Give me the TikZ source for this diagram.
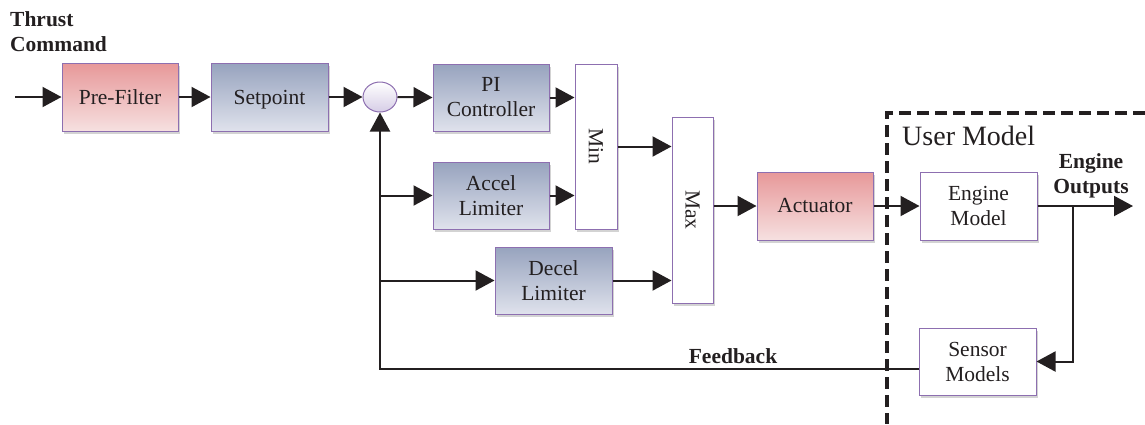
\documentclass[tikz,border=0pt]{standalone}
\usepackage{fontspec}
\setmainfont{Liberation Serif}
\newfontfamily\tnr{Liberation Serif}
\usetikzlibrary{arrows.meta,shadows,shapes.geometric}
\definecolor{ink}{HTML}{231F20}
\definecolor{edge}{HTML}{8D6FB0}
\definecolor{pinkTop}{HTML}{E79899}
\definecolor{pinkBot}{HTML}{F6E0E0}
\definecolor{blueTop}{HTML}{97A3BE}
\definecolor{blueBot}{HTML}{DFE2EC}
\definecolor{lavBot}{HTML}{D6CDE6}
\newcommand{\labfont}{\tnr\fontsize{21.5}{25}\selectfont}
\newcommand{\bigfont}{\tnr\fontsize{28}{32}\selectfont}
\begin{document}
\begin{tikzpicture}[x=1pt,y=-1pt,
  blk/.style={draw=edge, line width=1pt, minimum width=116pt, minimum height=67pt,
    align=center, inner sep=0pt, font=\labfont, text=ink,
    drop shadow={shadow xshift=2pt, shadow yshift=-2.5pt, opacity=0.35}},
  pinkblk/.style={blk, top color=pinkTop, bottom color=pinkBot},
  blueblk/.style={blk, top color=blueTop, bottom color=blueBot},
  whiteblk/.style={blk, fill=white},
  tallblk/.style={blk, fill=white, minimum width=42pt},
  conn/.style={draw=ink, line width=2pt, -{Triangle[length=19pt,width=20pt]}},
  boldlab/.style={font=\labfont\bfseries, text=ink, inner sep=0pt},
  userline/.style={draw=ink, line width=4pt, dash pattern=on 12pt off 6pt}
]
\useasboundingbox (0,0) rectangle (1145,424);

% blocks
\node[pinkblk, minimum height=68pt] (pre) at (120,97) {Pre-Filter};
\node[blueblk, minimum height=68pt, minimum width=117pt] (set) at (269.5,97) {\raisebox{0pt}[\height][0pt]{Setpoint}};
\node[ellipse, draw=edge, line width=1pt, top color=white, bottom color=lavBot,
      minimum width=34pt, minimum height=30pt, inner sep=0pt] (sum) at (380,97) {};
\node[blueblk] (pi) at (491,97.5) {PI\\Controller};
\node[blueblk] (accel) at (491,195.5) {Accel\\Limiter};
\node[tallblk, minimum height=165pt] (min) at (596,146.5) {\rotatebox{-90}{Min}};
\node[tallblk, minimum width=41pt, minimum height=186pt] (max) at (692.5,210) {\rotatebox{-90}{Max}};
\node[blueblk, minimum width=117pt] (decel) at (553.5,280.5) {Decel\\Limiter};
\node[pinkblk, minimum height=68pt] (act) at (815,206) {Actuator};
\node[whiteblk, minimum height=68pt, minimum width=117pt] (eng) at (978.5,206) {Engine\\Model};
\node[whiteblk, minimum width=117pt] (sens) at (977.5,361.5) {Sensor\\Models};

% user model boundary
\coordinate (ucorner) at (887,113);
\draw[userline] (1145,113) -- (ucorner) -- (887,424);
\node[font=\bigfont, text=ink, anchor=base west, inner sep=0pt] (user) at (902,145) {User Model};

% labels
\node[boldlab, anchor=north west, align=left] (thrust) at (10,11) {Thrust\\Command};
\node[boldlab, align=center] (outs) at (1091,176) {Engine\\Outputs};
\node[boldlab, anchor=base] (fb) at (733,363) {Feedback};

% connectors
\coordinate (in) at (15,97);
\draw[conn] (in) -- (pre.west);
\draw[conn] (pre.east) -- (set.west);
\draw[conn] (set.east) -- (sum.west);
\draw[conn] (sum.east) -- (pi.west);
\draw[conn] (pi.east) -- (pi.east -| min.west);
\draw[conn] (accel.east) -- (accel.east -| min.west);
\draw[conn] (min.east) -- (min.east -| max.west);
\draw[conn] (decel.east) -- (decel.east -| max.west);
\draw[conn] (max.east |- act.west) -- (act.west);
\draw[conn] (act.east) -- (eng.west);
\coordinate (out) at (1133,206);
\draw[conn] (eng.east) -- (out);
\coordinate (br) at (1073,206);
\draw[conn] (br) -- (br |- sens.east) -- (sens.east);
\coordinate (fbc) at (380,369);
\draw[conn] ([yshift=-7.5pt]sens.west) -- (fbc) -- (sum.south);
\draw[conn] (fbc |- accel.west) -- (accel.west);
\draw[conn] (fbc |- decel.west) -- (decel.west);
\end{tikzpicture}
\end{document}
